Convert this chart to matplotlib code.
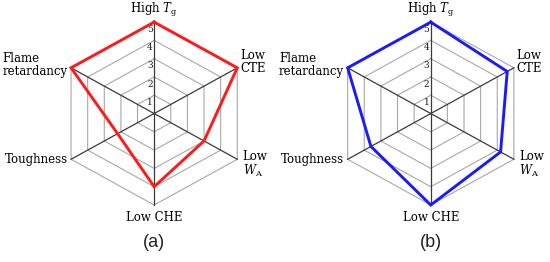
import matplotlib
matplotlib.use("Agg")
import matplotlib.pyplot as plt
import numpy as np

plt.rcParams['font.family'] = ['DejaVu Serif']
plt.rcParams['mathtext.fontset'] = 'dejavuserif'

# axis labels, clockwise from the top
labels = ["High $T_\\mathrm{g}$", "Low\nCTE", "Low\n$W_\\mathrm{A}$",
          "Low CHE", "Toughness", "Flame\nretardancy"]
values_a = [5, 5, 3, 4, 2.2, 5]
values_b = [5, 4.6, 4.2, 5, 3.6, 5]
rings = [1, 2, 3, 4, 5]
panels = ["(a)", "(b)"]

# label placement: (dx, dy) in points, ha, va
label_pos = [
    ((0, 2), 'center', 'bottom'),
    ((2, 4.5), 'left', 'center'),
    ((4, -3.5), 'left', 'center'),
    ((0, -4), 'center', 'top'),
    ((-2.5, 0), 'right', 'center'),
    ((-2.5, 2), 'right', 'center'),
]

angles = np.arange(6) * 2 * np.pi / 6
closed = np.append(angles, angles[0])

fig = plt.figure(figsize=(5.5, 2.62), dpi=100)


def radar(rect, values, color, panel):
    ax = fig.add_axes(rect, projection='polar')
    ax.set_aspect('auto')
    ax.set_theta_offset(np.pi / 2)
    ax.set_theta_direction(-1)
    ax.set_ylim(0, 5)
    ax.set_xticks([])
    ax.set_yticks([])
    ax.grid(False)
    ax.spines['polar'].set_visible(False)

    for r in rings:
        ax.plot(closed, [r] * 7, color='#a8a8a8', lw=0.8, zorder=1, clip_on=False)
    for a in angles:
        ax.plot([a, a], [0, 5], color='#3a3a3a', lw=0.9, zorder=2, clip_on=False)

    for r in rings:
        ax.annotate(str(r), xy=(0, r), xytext=(-1.0, -2.0), textcoords='offset points',
                    ha='right', va='top', fontsize=6.5, color='#1a1a1a')

    v = np.append(values, values[0])
    ax.plot(closed, v, color=color, lw=2.1, zorder=5, clip_on=False,
            solid_joinstyle='miter')

    for a, lab, (off, ha, va) in zip(angles, labels, label_pos):
        ax.annotate(lab, xy=(a, 5), xytext=off, textcoords='offset points',
                    ha=ha, va=va, fontsize=8.5, multialignment='left',
                    linespacing=1.0, color='#000000')

    ax.text(0.5, -0.205, panel, transform=ax.transAxes, ha='center', va='center',
            fontsize=13, family='Liberation Sans', color='#222222')
    return ax


radar([0.1058, 0.2176, 0.349, 0.698], values_a, '#ff1a1a', panels[0])
radar([0.6087, 0.2176, 0.349, 0.698], values_b, '#1a1aff', panels[1])

plt.savefig("out.png", dpi=100)
